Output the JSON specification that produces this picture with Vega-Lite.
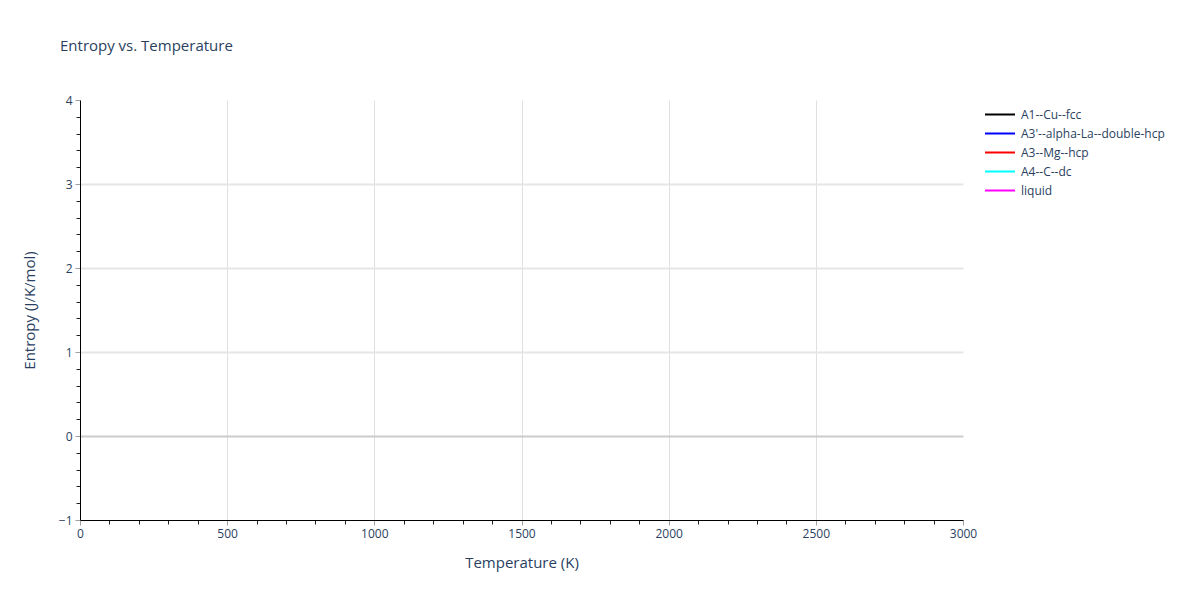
{
  "$schema": "https://vega.github.io/schema/vega-lite/v6.json",
  "autosize": {"type": "none"},
  "padding": {"left": 80, "top": 100, "right": 237, "bottom": 80},
  "width": 883,
  "height": 420,
  "background": "white",
  "config": {
    "font": "Open Sans",
    "view": {"stroke": null}
  },
  "title": {
    "text": "Entropy vs. Temperature",
    "anchor": "start",
    "frame": "group",
    "dx": -20,
    "offset": 28,
    "baseline": "alphabetic",
    "fontSize": 15,
    "fontWeight": "normal",
    "color": "#2a3f5f",
    "font": "Open Sans"
  },
  "data": {
    "values": [
      {"phase": "A1--Cu--fcc", "T": null, "S": null},
      {"phase": "A3'--alpha-La--double-hcp", "T": null, "S": null},
      {"phase": "A3--Mg--hcp", "T": null, "S": null},
      {"phase": "A4--C--dc", "T": null, "S": null},
      {"phase": "liquid", "T": null, "S": null}
    ]
  },
  "mark": {"type": "line", "strokeWidth": 2, "clip": true},
  "encoding": {
    "x": {
      "field": "T",
      "type": "quantitative",
      "scale": {"domain": [0, 3000], "nice": false, "zero": false},
      "axis": {
        "title": "Temperature (K)",
        "titleFontSize": 15,
        "titleFontWeight": "normal",
        "titleColor": "#2a3f5f",
        "titlePadding": 16,
        "values": [0, 100, 200, 300, 400, 500, 600, 700, 800, 900, 1000, 1100, 1200, 1300, 1400, 1500, 1600, 1700, 1800, 1900, 2000, 2100, 2200, 2300, 2400, 2500, 2600, 2700, 2800, 2900, 3000],
        "labelExpr": "datum.value % 500 === 0 ? datum.label : ''",
        "format": "d",
        "labelFontSize": 12,
        "labelColor": "#2a3f5f",
        "labelPadding": 3,
        "labelFlush": false,
        "domainColor": "#000000",
        "domainWidth": 1,
        "tickSize": {"condition": {"test": "datum.value % 500 === 0", "value": 5}, "value": 4},
        "tickColor": {"condition": {"test": "datum.value % 500 === 0", "value": "#a0a0a0"}, "value": "#222222"},
        "grid": true,
        "gridColor": "#e0e0e0",
        "gridOpacity": {"condition": {"test": "datum.value % 500 === 0 && datum.value > 0 && datum.value < 3000", "value": 1}, "value": 0}
      }
    },
    "y": {
      "field": "S",
      "type": "quantitative",
      "scale": {"domain": [-1, 4], "nice": false, "zero": false},
      "axis": {
        "title": "Entropy (J/K/mol)",
        "titleFontSize": 15,
        "titleFontWeight": "normal",
        "titleColor": "#2a3f5f",
        "titlePadding": 21,
        "values": [-1, -0.8, -0.6, -0.4, -0.2, 0, 0.2, 0.4, 0.6, 0.8, 1, 1.2, 1.4, 1.6, 1.8, 2, 2.2, 2.4, 2.6, 2.8, 3, 3.2, 3.4, 3.6, 3.8, 4],
        "labelExpr": "abs(datum.value - round(datum.value)) < 1e-6 ? (datum.value < 0 ? '\u22121' : format(datum.value, 'd')) : ''",
        "labelFontSize": 12,
        "labelColor": "#2a3f5f",
        "labelPadding": 3,
        "labelFlush": false,
        "domainColor": "#000000",
        "domainWidth": 1,
        "tickSize": {"condition": {"test": "abs(datum.value - round(datum.value)) < 1e-6", "value": 5}, "value": 4},
        "tickColor": {"condition": {"test": "abs(datum.value - round(datum.value)) < 1e-6", "value": "#a0a0a0"}, "value": "#222222"},
        "grid": true,
        "gridColor": {"condition": {"test": "datum.value === 0", "value": "#cccccc"}, "value": "#e6e6e6"},
        "gridWidth": 2,
        "gridOpacity": {"condition": {"test": "abs(datum.value - round(datum.value)) < 1e-6 && datum.value > -1 && datum.value < 4", "value": 1}, "value": 0}
      }
    },
    "color": {
      "field": "phase",
      "type": "nominal",
      "scale": {
        "domain": ["A1--Cu--fcc", "A3'--alpha-La--double-hcp", "A3--Mg--hcp", "A4--C--dc", "liquid"],
        "range": ["#000000", "#0000ff", "#ff0000", "#00ffff", "#ff00ff"]
      },
      "legend": {
        "title": null,
        "orient": "none",
        "legendX": 904,
        "legendY": 5,
        "symbolType": "stroke",
        "symbolSize": 900,
        "symbolStrokeWidth": 2,
        "labelFontSize": 12,
        "labelColor": "#2a3f5f",
        "labelOffset": 5,
        "clipHeight": 19,
        "rowPadding": 0,
        "labelLimit": 300
      }
    }
  }
}
